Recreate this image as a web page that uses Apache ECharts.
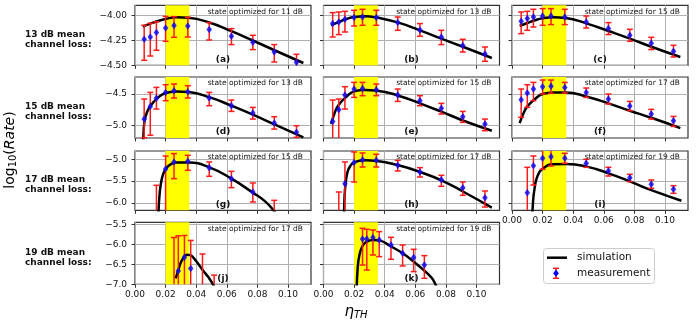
<!DOCTYPE html>
<html>
<head>
<meta charset="utf-8">
<script src="https://cdn.jsdelivr.net/npm/echarts@6/dist/echarts.min.js"></script>
<style>
html,body{margin:0;padding:0;background:#fff}
#chart{width:699px;height:322px}
</style>
</head>
<body>
<div id="chart"></div>
<script>
// x positions of the measured points (eta_TH)
var etaFull = [0.006, 0.010, 0.014, 0.020, 0.0255, 0.0345, 0.0485, 0.063, 0.077, 0.091, 0.1055];
var etaG = [0.014, 0.020, 0.0255, 0.0345, 0.0485, 0.063, 0.077, 0.091];
var etaHI = [0.010, 0.014, 0.020, 0.0255, 0.0345, 0.0485, 0.063, 0.077, 0.091, 0.1055];
var etaJK = [0.0255, 0.0283, 0.0323, 0.0364, 0.0441, 0.0517, 0.0589, 0.0659];

// measured log10(rate), with error bar ends (lo / hi)
var rateA = [-4.24, -4.217, -4.173, -4.127, -4.103, -4.107, -4.143, -4.21, -4.27, -4.367, -4.47];
var hiA = [-4.10, -4.08, -4.065, -4.01, -4.013, -4.02, -4.073, -4.133, -4.2, -4.293, -4.39];
var loA = [-4.45, -4.407, -4.35, -4.26, -4.22, -4.217, -4.247, -4.293, -4.343, -4.467, -4.53];

var rateB = [-4.083, -4.067, -4.04, -4.023, -4.017, -4.023, -4.073, -4.147, -4.217, -4.303, -4.387];
var hiB = [-3.973, -3.967, -3.96, -3.95, -3.94, -3.95, -4.017, -4.083, -4.15, -4.24, -4.317];
var loB = [-4.217, -4.193, -4.167, -4.107, -4.1, -4.1, -4.15, -4.21, -4.293, -4.367, -4.46];

var rateC = [-4.06, -4.033, -4.017, -4.007, -4.007, -4.017, -4.067, -4.133, -4.2, -4.28, -4.36];
var hiC = [-3.967, -3.96, -3.94, -3.933, -3.933, -3.94, -4.007, -4.073, -4.14, -4.22, -4.3];
var loC = [-4.183, -4.15, -4.117, -4.1, -4.093, -4.093, -4.127, -4.193, -4.26, -4.343, -4.417];

var rateD = [-4.895, -4.695, -4.568, -4.474, -4.447, -4.463, -4.563, -4.684, -4.8, -4.958, -5.105];
var hiD = [-4.579, -4.474, -4.395, -4.353, -4.342, -4.368, -4.474, -4.595, -4.711, -4.858, -5.0];
var loD = [-5.19, -5.15, -4.737, -4.605, -4.563, -4.563, -4.684, -4.774, -4.895, -5.053, -5.184];

var rateE = [-4.932, -4.747, -4.516, -4.421, -4.411, -4.432, -4.516, -4.605, -4.726, -4.858, -4.974];
var hiE = [-4.595, -4.579, -4.384, -4.316, -4.316, -4.342, -4.421, -4.526, -4.647, -4.774, -4.895];
var loE = [-5.4, -5.35, -4.737, -4.553, -4.526, -4.526, -4.616, -4.684, -4.816, -4.947, -5.079];

var rateF = [-4.589, -4.484, -4.421, -4.384, -4.379, -4.395, -4.474, -4.579, -4.689, -4.816, -4.921];
var hiF = [-4.421, -4.353, -4.316, -4.279, -4.279, -4.316, -4.405, -4.5, -4.616, -4.742, -4.853];
var loF = [-4.868, -4.711, -4.605, -4.5, -4.489, -4.484, -4.553, -4.658, -4.763, -4.895, -5.011];

var rateG = [null, -5.222, -5.061, -5.046, -5.191, -5.443, -5.748, null];
var hiG = [-5.595, -4.925, -4.87, -4.908, -5.061, -5.275, -5.542, -5.939];
var loG = [-6.5, -6.4, -5.443, -5.252, -5.389, -5.649, -5.977, -6.5];

var rateH = [null, -5.557, -5.076, -5.008, -5.023, -5.137, -5.29, -5.466, -5.649, -5.878];
var hiH = [-5.748, -5.061, -4.832, -4.855, -4.885, -5.023, -5.191, -5.366, -5.519, -5.725];
var loH = [-6.5, -6.4, -5.519, -5.176, -5.176, -5.267, -5.405, -5.618, -5.824, -6.092];

var rateI = [-5.763, -5.145, -4.977, -4.939, -4.977, -5.092, -5.267, -5.42, -5.573, -5.687];
var hiI = [-5.183, -4.924, -4.748, -4.725, -4.863, -5.0, -5.183, -5.344, -5.473, -5.603];
var loI = [-6.5, -5.588, -5.229, -5.153, -5.092, -5.183, -5.382, -5.511, -5.664, -5.779];

var rateJ = [null, -6.67, -6.324, -6.605, null, null];
var hiJ = [-5.83, -5.789, -5.78, -5.904, -6.242, -6.77];
var loJ = [-7.6, -7.6, -7.5, -7.6, -7.8, -7.9];

var rateK = [-5.867, -5.867, -5.833, -5.892, -6.017, -6.225, -6.333, -6.517];
var hiK = [-5.6, -5.625, -5.642, -5.683, -5.825, -6.017, -6.125, -6.283];
var loK = [-6.517, -6.642, -6.267, -6.308, -6.375, -6.542, -6.683, -6.85];

// simulation curves [eta, log10(rate)]
var simA = [[0.005,-4.112],[0.010,-4.083],[0.0145,-4.06],[0.020,-4.037],[0.027,-4.02],[0.035,-4.025],[0.049,-4.075],[0.063,-4.158],[0.077,-4.252],[0.0915,-4.352],[0.110,-4.477]];
var simB = [[0.005,-4.1],[0.010,-4.067],[0.0145,-4.04],[0.020,-4.017],[0.027,-4.01],[0.035,-4.023],[0.049,-4.073],[0.063,-4.15],[0.077,-4.233],[0.0915,-4.317],[0.110,-4.427]];
var simC = [[0.005,-4.107],[0.010,-4.077],[0.0145,-4.052],[0.020,-4.03],[0.027,-4.02],[0.035,-4.027],[0.049,-4.083],[0.063,-4.157],[0.077,-4.233],[0.0915,-4.317],[0.110,-4.417]];
var simD = [[0.005,-5.45],[0.0055,-5.15],[0.0063,-4.92],[0.0078,-4.79],[0.010,-4.69],[0.0145,-4.568],[0.020,-4.484],[0.027,-4.458],[0.035,-4.468],[0.049,-4.553],[0.063,-4.684],[0.077,-4.826],[0.0915,-4.984],[0.110,-5.184]];
var simE = [[0.005,-4.974],[0.0078,-4.763],[0.010,-4.668],[0.0145,-4.553],[0.020,-4.458],[0.027,-4.437],[0.035,-4.447],[0.049,-4.526],[0.063,-4.647],[0.077,-4.779],[0.0915,-4.921],[0.110,-5.079]];
var simF = [[0.005,-4.958],[0.0078,-4.789],[0.010,-4.695],[0.0145,-4.589],[0.020,-4.5],[0.027,-4.474],[0.035,-4.474],[0.049,-4.542],[0.063,-4.647],[0.077,-4.763],[0.0915,-4.879],[0.110,-5.037]];
var simG = [[0.0150,-6.6],[0.0155,-6.1],[0.0162,-5.75],[0.0172,-5.5],[0.0185,-5.33],[0.0203,-5.21],[0.023,-5.12],[0.027,-5.076],[0.035,-5.076],[0.049,-5.191],[0.063,-5.443],[0.077,-5.763],[0.085,-5.962],[0.0908,-6.18],[0.092,-6.25]];
var simH = [[0.0133,-6.5],[0.0137,-5.9],[0.0143,-5.6],[0.0156,-5.3],[0.0172,-5.17],[0.020,-5.07],[0.027,-5.023],[0.035,-5.038],[0.049,-5.137],[0.063,-5.29],[0.077,-5.481],[0.0917,-5.748],[0.110,-6.107]];
var simI = [[0.0130,-6.5],[0.0137,-6.0],[0.0146,-5.70],[0.0165,-5.397],[0.0204,-5.206],[0.027,-5.115],[0.0358,-5.107],[0.0489,-5.168],[0.0631,-5.321],[0.0773,-5.511],[0.0919,-5.718],[0.1107,-5.947]];
var simJ = [[0.0266,-6.85],[0.0283,-6.65],[0.030,-6.45],[0.032,-6.32],[0.0338,-6.26],[0.036,-6.27],[0.0385,-6.35],[0.0415,-6.5],[0.0446,-6.66],[0.0479,-6.82],[0.0508,-6.99],[0.052,-7.1]];
var simK = [[0.0216,-7.2],[0.0224,-6.558],[0.0235,-6.267],[0.0255,-6.042],[0.0283,-5.933],[0.0327,-5.892],[0.037,-5.908],[0.0436,-6.042],[0.0517,-6.225],[0.0589,-6.433],[0.0659,-6.658],[0.0709,-6.85],[0.0731,-7.0],[0.074,-7.08]];

var optimizedFor = [11, 13, 15, 13, 15, 17, 15, 17, 19, 17, 19];
var rowLoss = [13, 15, 17, 19];
var band = [0.02, 0.0355];

// axis ranges and ticks
var xTicks = [0, 0.02, 0.04, 0.06, 0.08, 0.10];
var rowMin = [-4.5, -5.194, -6.167, -7.0];
var rowMax = [-3.9, -4.231, -4.81, -5.45];
var rowTicks = [[-4.5, -4.25, -4.0], [-5.0, -4.5], [-6.0, -5.5, -5.0], [-7.0, -6.5, -6.0, -5.5]];
var rowDecimals = [2, 1, 1, 1];

var F = 'DejaVu Sans';
var colLeft = [135, 323.5, 512];
var rowTop = [5.3, 77, 151, 222.3];
var rowH = [60, 61, 59.3, 62];
var panelW = 176;

var panels = [
  {row:0, col:0, eta:etaFull, rate:rateA, lo:loA, hi:hiA, sim:simA, tag:'(a)', yLab:true,  xLab:false},
  {row:0, col:1, eta:etaFull, rate:rateB, lo:loB, hi:hiB, sim:simB, tag:'(b)', yLab:false, xLab:false},
  {row:0, col:2, eta:etaFull, rate:rateC, lo:loC, hi:hiC, sim:simC, tag:'(c)', yLab:false, xLab:false},
  {row:1, col:0, eta:etaFull, rate:rateD, lo:loD, hi:hiD, sim:simD, tag:'(d)', yLab:true,  xLab:false},
  {row:1, col:1, eta:etaFull, rate:rateE, lo:loE, hi:hiE, sim:simE, tag:'(e)', yLab:false, xLab:false},
  {row:1, col:2, eta:etaFull, rate:rateF, lo:loF, hi:hiF, sim:simF, tag:'(f)', yLab:false, xLab:false},
  {row:2, col:0, eta:etaG,    rate:rateG, lo:loG, hi:hiG, sim:simG, tag:'(g)', yLab:true,  xLab:false},
  {row:2, col:1, eta:etaHI,   rate:rateH, lo:loH, hi:hiH, sim:simH, tag:'(h)', yLab:false, xLab:false},
  {row:2, col:2, eta:etaHI,   rate:rateI, lo:loI, hi:hiI, sim:simI, tag:'(i)', yLab:false, xLab:true},
  {row:3, col:0, eta:etaJK,   rate:rateJ, lo:loJ, hi:hiJ, sim:simJ, tag:'(j)', yLab:true,  xLab:true},
  {row:3, col:1, eta:etaJK,   rate:rateK, lo:loK, hi:hiK, sim:simK, tag:'(k)', yLab:false, xLab:true}
];

function minus(s){ return s.replace('-', '\u2212'); }

// red error bar with caps, clipped to the panel
function errBar(params, api){
  var x = api.value(0);
  var pLo = api.coord([x, api.value(1)]);
  var pHi = api.coord([x, api.value(2)]);
  var cs = params.coordSys;
  var top = Math.max(pHi[1], cs.y), bot = Math.min(pLo[1], cs.y + cs.height);
  var st = {stroke:'#ff1a1a', lineWidth:1.5};
  var kids = [{type:'line', shape:{x1:pLo[0], y1:top, x2:pLo[0], y2:bot}, style:st}];
  if (pHi[1] >= cs.y) kids.push({type:'line', shape:{x1:pHi[0]-3, y1:pHi[1], x2:pHi[0]+3, y2:pHi[1]}, style:st});
  if (pLo[1] <= cs.y + cs.height) kids.push({type:'line', shape:{x1:pLo[0]-3, y1:pLo[1], x2:pLo[0]+3, y2:pLo[1]}, style:st});
  return {type:'group', children:kids};
}

var grids = [], xAxes = [], yAxes = [], series = [], graphics = [];

panels.forEach(function(p, i){
  var left = colLeft[p.col], top = rowTop[p.row], h = rowH[p.row];
  grids.push({left:left, top:top, width:panelW, height:h, show:true,
    borderColor:'#333', borderWidth:1.2, backgroundColor:'transparent'});
  xAxes.push({type:'value', gridIndex:i, min:0, max:0.115,
    axisLine:{show:false},
    axisTick:{show:true, length:3.5, customValues:xTicks, lineStyle:{color:'#333', width:1}},
    axisLabel:{show:p.xLab, customValues:xTicks, margin:6, fontSize:9, fontFamily:F, color:'#111',
      formatter:function(v){ return v.toFixed(2); }},
    splitLine:{show:true, lineStyle:{color:'#b0b0b0', width:1}}});
  var dec = rowDecimals[p.row];
  yAxes.push({type:'value', gridIndex:i, min:rowMin[p.row], max:rowMax[p.row],
    axisLine:{show:false},
    axisTick:{show:true, length:3.5, customValues:rowTicks[p.row], lineStyle:{color:'#333', width:1}},
    axisLabel:{show:p.yLab, customValues:rowTicks[p.row], margin:8, fontSize:9, fontFamily:F, color:'#111',
      formatter:function(v){ return minus(v.toFixed(dec)); }},
    splitLine:{show:true, lineStyle:{color:'#b0b0b0', width:1}}});

  series.push({type:'line', name:'simulation', xAxisIndex:i, yAxisIndex:i, data:p.sim,
    showSymbol:false, smooth:0.5, z:2, silent:true,
    lineStyle:{color:'#000', width:2.5},
    markArea:{silent:true, itemStyle:{color:'#ffff00'}, data:[[{xAxis:band[0]}, {xAxis:band[1]}]]}});
  series.push({type:'custom', name:'measurement', xAxisIndex:i, yAxisIndex:i, z:3, silent:true,
    data:p.eta.map(function(x, k){ return [x, p.lo[k], p.hi[k]]; }),
    encode:{x:0, y:[1, 2]}, renderItem:errBar});
  series.push({type:'scatter', name:'measurement', xAxisIndex:i, yAxisIndex:i, z:4, silent:true,
    symbol:'diamond', symbolSize:[5.5, 7.5], itemStyle:{color:'#0000ff'},
    data:p.eta.map(function(x, k){ return [x, p.rate[k]]; }).filter(function(d){ return d[1] != null; })});

  graphics.push({type:'text', x:left + 88, y:top + h - 6, z:10,
    style:{text:p.tag, fontSize:9, fontWeight:'bold', fontFamily:F, fill:'#111', align:'center', verticalAlign:'middle'}});
  graphics.push({type:'text', x:left + 168, y:top + 6.5, z:10,
    style:{text:'state optimized for ' + optimizedFor[i] + ' dB', fontSize:7.5, fontFamily:F, fill:'#111', align:'right', verticalAlign:'middle'}});
});

rowLoss.forEach(function(db, r){
  graphics.push({type:'text', x:25, y:rowTop[r] + rowH[r] / 2 + 4.5,
    style:{text:db + ' dB mean\nchannel loss:', fontSize:9, fontWeight:'bold', fontFamily:F, fill:'#111',
      lineHeight:10, align:'left', verticalAlign:'middle'}});
});

// axis titles
graphics.push({type:'text', x:10, y:150, rotation:Math.PI / 2,
  style:{text:'{a|log}{b|10}{a|(}{c|Rate}{a|)}', align:'center', verticalAlign:'middle', fill:'#000',
    rich:{a:{fontSize:14, fontFamily:F}, b:{fontSize:10, fontFamily:F, padding:[6, 0, 0, 0]},
      c:{fontSize:14, fontFamily:F, fontStyle:'italic'}}}});
graphics.push({type:'text', x:356, y:312,
  style:{text:'{e|\u03b7}{s|TH}', align:'center', verticalAlign:'middle', fill:'#000',
    rich:{e:{fontSize:15, fontFamily:F, fontStyle:'italic'}, s:{fontSize:10, fontFamily:F, fontStyle:'italic', padding:[7, 0, 0, 0]}}}});

// legend box
graphics.push({type:'rect', shape:{x:543.5, y:248.5, width:111, height:35, r:3},
  style:{fill:'rgba(255,255,255,0.8)', stroke:'#cccccc', lineWidth:1}});
graphics.push({type:'line', shape:{x1:547, y1:257.7, x2:567, y2:257.7}, style:{stroke:'#000', lineWidth:2.5}});
graphics.push({type:'line', shape:{x1:556, y1:268.3, x2:556, y2:278.3}, style:{stroke:'#ff1a1a', lineWidth:1.5}});
graphics.push({type:'line', shape:{x1:553, y1:268.3, x2:559, y2:268.3}, style:{stroke:'#ff1a1a', lineWidth:1.5}});
graphics.push({type:'line', shape:{x1:553, y1:278.3, x2:559, y2:278.3}, style:{stroke:'#ff1a1a', lineWidth:1.5}});
graphics.push({type:'polygon', shape:{points:[[556, 269.6], [558.8, 273.3], [556, 277], [553.2, 273.3]]}, style:{fill:'#0000ff'}});
graphics.push({type:'text', x:577, y:257.7, style:{text:'simulation', fontSize:10.5, fontFamily:F, fill:'#111', align:'left', verticalAlign:'middle'}});
graphics.push({type:'text', x:577, y:273.3, style:{text:'measurement', fontSize:10.5, fontFamily:F, fill:'#111', align:'left', verticalAlign:'middle'}});

var myChart = echarts.init(document.getElementById('chart'), null, {renderer:'canvas'});
myChart.setOption({
  animation:false,
  backgroundColor:'#fff',
  grid:grids,
  xAxis:xAxes,
  yAxis:yAxes,
  series:series,
  graphic:graphics
});
</script>
</body>
</html>
